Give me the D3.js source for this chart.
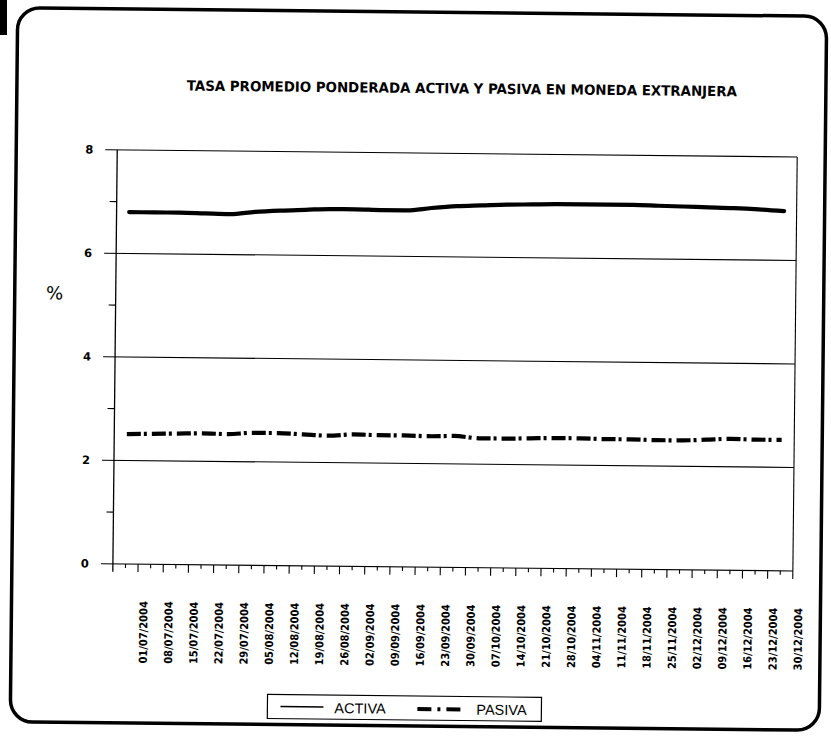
<!DOCTYPE html>
<html lang="es">
<head>
    <meta charset="UTF-8">
    <title>Tasa promedio ponderada activa y pasiva</title>
    <script src="https://cdnjs.cloudflare.com/ajax/libs/d3/7.8.5/d3.min.js"></script>
    <style>
        html, body { margin: 0; padding: 0; background: #fff; }
        svg { display: block; }
    </style>
</head>
<body>
<svg width="831" height="736"></svg>

<script>
    // weekly dates (category axis)
    const dates = [
        "01/07/2004", "08/07/2004", "15/07/2004", "22/07/2004", "29/07/2004", "05/08/2004",
        "12/08/2004", "19/08/2004", "26/08/2004", "02/09/2004", "09/09/2004", "16/09/2004",
        "23/09/2004", "30/09/2004", "07/10/2004", "14/10/2004", "21/10/2004", "28/10/2004",
        "04/11/2004", "11/11/2004", "18/11/2004", "25/11/2004", "02/12/2004", "09/12/2004",
        "16/12/2004", "23/12/2004", "30/12/2004"
    ];
    const activa = [6.80, 6.80, 6.80, 6.79, 6.78, 6.83, 6.86, 6.88, 6.90, 6.90, 6.89, 6.89, 6.94, 6.98,
        7.00, 7.02, 7.03, 7.04, 7.04, 7.04, 7.04, 7.03, 7.02, 7.01, 7.00, 6.98, 6.95];
    const pasiva = [2.51, 2.52, 2.53, 2.54, 2.53, 2.56, 2.56, 2.54, 2.52, 2.55, 2.54, 2.54, 2.53, 2.54,
        2.50, 2.50, 2.51, 2.52, 2.52, 2.51, 2.51, 2.50, 2.50, 2.52, 2.54, 2.53, 2.53];
    const yMajor = [0, 2, 4, 6, 8];
    const yMinor = [1, 3, 5, 7];
    const legendItems = ["ACTIVA", "PASIVA"];

    const svg = d3.select("svg");
    const plotL = 115, plotR = 795, plotT = 153, plotB = 567;

    // scanned page sits a little crooked
    svg.append("rect").attr("x", 0).attr("y", 0).attr("width", 7).attr("height", 35).attr("fill", "#000");
    const g = svg.append("g").attr("transform", "rotate(0.6,415,365)");

    g.append("rect")
        .attr("x", 14).attr("y", 12).attr("width", 809).attr("height", 714)
        .attr("rx", 22).attr("ry", 22)
        .attr("fill", "none").attr("stroke", "#000").attr("stroke-width", 3.5);

    g.append("text")
        .attr("x", 459).attr("y", 93)
        .attr("text-anchor", "middle")
        .attr("font-family", "DejaVu Sans Condensed, DejaVu Sans, sans-serif")
        .attr("font-weight", "bold")
        .attr("font-size", 14)
        .attr("textLength", 550).attr("lengthAdjust", "spacingAndGlyphs")
        .text("TASA PROMEDIO PONDERADA ACTIVA Y PASIVA EN MONEDA EXTRANJERA");

    const x = d3.scaleBand().domain(dates).range([plotL, plotR]);
    const y = d3.scaleLinear().domain([0, 8]).range([plotB, plotT]);
    const bw = x.bandwidth();
    const cx = d => x(d) + bw / 2;

    // gridlines + plot border
    g.append("g").selectAll("line").data(yMajor).enter().append("line")
        .attr("x1", plotL - 12).attr("x2", plotR)
        .attr("y1", d => y(d)).attr("y2", d => y(d))
        .attr("stroke", "#000").attr("stroke-width", 1.1);
    g.append("line").attr("x1", plotR).attr("x2", plotR).attr("y1", plotT).attr("y2", plotB + 8)
        .attr("stroke", "#000").attr("stroke-width", 1.1);
    g.append("line").attr("x1", plotL).attr("x2", plotL).attr("y1", plotT).attr("y2", plotB + 8)
        .attr("stroke", "#000").attr("stroke-width", 1.3);

    // y minor ticks
    g.append("g").selectAll("line").data(yMinor).enter().append("line")
        .attr("x1", plotL - 7).attr("x2", plotL)
        .attr("y1", d => y(d)).attr("y2", d => y(d))
        .attr("stroke", "#000").attr("stroke-width", 1.1);

    g.append("g").selectAll("text").data(yMajor).enter().append("text")
        .attr("x", plotL - 24).attr("y", d => y(d) + 4)
        .attr("text-anchor", "end")
        .attr("font-family", "DejaVu Sans, sans-serif")
        .attr("font-weight", "bold").attr("font-size", 11.5)
        .text(d => d);

    g.append("text").attr("x", 54).attr("y", 303)
        .attr("text-anchor", "middle")
        .attr("font-family", "DejaVu Sans, sans-serif").attr("font-size", 18)
        .text("%");

    // x ticks: long at category edges, short at centres
    g.append("g").selectAll("line").data(dates.slice(1)).enter().append("line")
        .attr("x1", d => x(d)).attr("x2", d => x(d))
        .attr("y1", plotB).attr("y2", plotB + 8)
        .attr("stroke", "#000").attr("stroke-width", 1.1);
    g.append("g").selectAll("line").data(dates).enter().append("line")
        .attr("x1", cx).attr("x2", cx)
        .attr("y1", plotB).attr("y2", plotB + 4)
        .attr("stroke", "#000").attr("stroke-width", 1.1);

    g.append("g").selectAll("text").data(dates).enter().append("text")
        .attr("transform", d => `translate(${cx(d) + bw * 0.73},${plotB + 37}) rotate(-90)`)
        .attr("dy", "0.36em")
        .attr("text-anchor", "end")
        .attr("font-family", "DejaVu Sans Condensed, DejaVu Sans, sans-serif")
        .attr("font-weight", "bold").attr("font-size", 11)
        .text(d => d);

    // series
    const line = d3.line().x((d, i) => cx(dates[i])).y(d => y(d)).curve(d3.curveMonotoneX);

    g.append("path").datum(activa)
        .attr("d", line).attr("fill", "none")
        .attr("stroke", "#000").attr("stroke-width", 4.2).attr("stroke-linecap", "round");

    g.append("path").datum(pasiva)
        .attr("d", line).attr("fill", "none")
        .attr("stroke", "#000").attr("stroke-width", 4.2)
        .attr("stroke-dasharray", "14,3,3,5");

    // legend
    const lg = g.append("g");
    lg.append("rect").attr("x", 271).attr("y", 696).attr("width", 274).attr("height", 24)
        .attr("fill", "#fff").attr("stroke", "#000").attr("stroke-width", 1.2);
    lg.append("line").attr("x1", 284).attr("x2", 327).attr("y1", 708).attr("y2", 708)
        .attr("stroke", "#000").attr("stroke-width", 1.5);
    lg.append("line").attr("x1", 421).attr("x2", 466).attr("y1", 709).attr("y2", 709)
        .attr("stroke", "#000").attr("stroke-width", 4)
        .attr("stroke-dasharray", "14,6,3,6");
    lg.selectAll("text").data(legendItems).enter().append("text")
        .attr("x", (d, i) => i === 0 ? 338 : 480)
        .attr("y", 714)
        .attr("font-family", "Liberation Sans, Arial, sans-serif")
        .attr("font-size", 14.5)
        .text(d => d);
</script>
</body>
</html>
